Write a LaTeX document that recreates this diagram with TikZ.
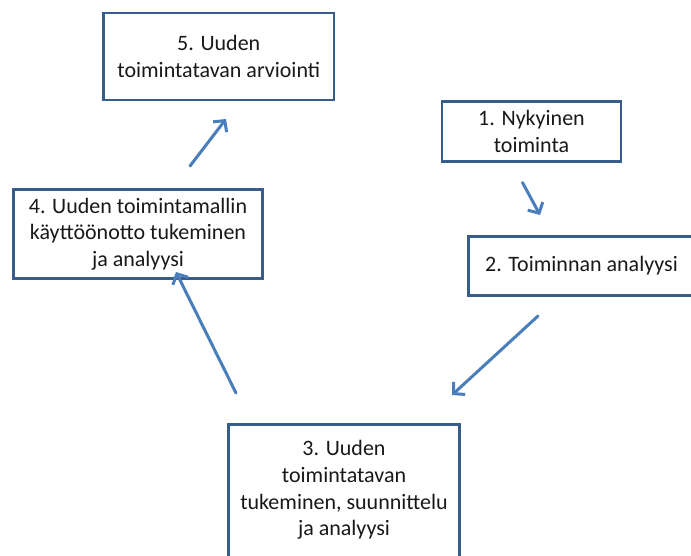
\documentclass[tikz,border=0pt]{standalone}
\usepackage{fontspec}
\setmainfont{Carlito}
\usetikzlibrary{arrows.meta}
\definecolor{boxline}{HTML}{385D8A}
\definecolor{arrowblue}{HTML}{4A7EBB}
\begin{document}
\begin{tikzpicture}[x=1pt,y=-1pt,
  box/.style={draw=boxline, line width=2.8pt, fill=white, align=center, inner sep=0pt,
    font=\fontsize{22}{26.7}\selectfont, text=black!90},
  flow/.style={draw=arrowblue, line width=3pt, line cap=round,
    -{Straight Barb[length=8pt,width=17pt]}}]
\useasboundingbox (0,0) rectangle (691,556);
\clip (0,0) rectangle (691,556);
\fill[white] (0,0) rectangle (691,556);

\node[box, minimum width=230.5pt, minimum height=87pt] (b5) at (218.75,56.5)
  {5. Uuden\\toimintatavan arviointi};
\node[box, minimum width=179pt, minimum height=60pt] (b1) at (531.5,131.5)
  {1. Nykyinen\\toiminta};
\node[box, minimum width=249pt, minimum height=89pt] (b4) at (138,234)
  {4. Uuden toimintamallin\\käyttöönotto tukeminen\\ja analyysi};
\node[box, minimum width=226pt, minimum height=59pt] (b2) at (581.5,266)
  {2. Toiminnan analyysi};
\node[box, minimum width=231pt, minimum height=135.5pt] (b3) at (344,492.25)
  {3. Uuden\\toimintatavan\\tukeminen, suunnittelu\\ja analyysi\rule[-8pt]{0pt}{8pt}};

\coordinate (a1s) at (522.5,182.5);
\coordinate (a1e) at (540,215);
\coordinate (a2s) at (538,316);
\coordinate (a2e) at (452,395);
\coordinate (a3s) at (236,393);
\coordinate (a3e) at (176,272);
\coordinate (a4s) at (190,166);
\coordinate (a4e) at (226,119);

\draw[flow] (a1s) -- (a1e);
\draw[flow] (a2s) -- (a2e);
\draw[flow] (a3s) -- (a3e);
\draw[flow] (a4s) -- (a4e);
\end{tikzpicture}
\end{document}
